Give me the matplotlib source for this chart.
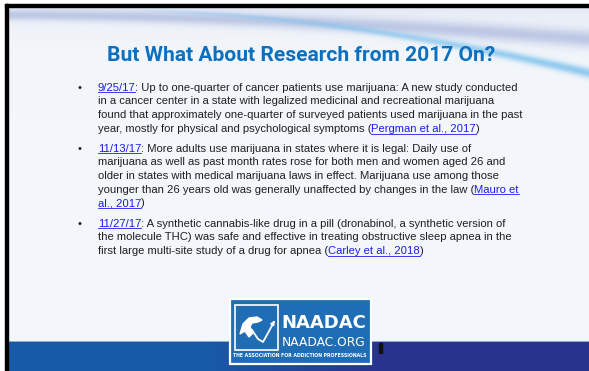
import numpy as np
import matplotlib
matplotlib.use('Agg')
import matplotlib.pyplot as plt
from matplotlib.patches import Rectangle, Polygon

# Slide content
title_text = 'But What About Research from 2017 On?'

bullet1 = [
    [('9/25/17', True), (': Up to one-quarter of cancer patients use marijuana: A new study conducted', False)],
    [('in a cancer center in a state with legalized medicinal and recreational marijuana', False)],
    [('found that approximately one-quarter of surveyed patients used marijuana in the past', False)],
    [('year, mostly for physical and psychological symptoms (', False), ('Pergman et al., 2017', True), (')', False)],
]
bullet2 = [
    [('11/13/17', True), (': More adults use marijuana in states where it is legal: Daily use of', False)],
    [('marijuana as well as past month rates rose for both men and women aged 26 and', False)],
    [('older in states with medical marijuana laws in effect. Marijuana use among those', False)],
    [('younger than 26 years old was generally unaffected by changes in the law (', False), ('Mauro et', True)],
    [('al., 2017', True), (')', False)],
]
bullet3 = [
    [('11/27/17', True), (': A synthetic cannabis-like drug in a pill (dronabinol, a synthetic version of', False)],
    [('the molecule THC) was safe and effective in treating obstructive sleep apnea in the', False)],
    [('first large multi-site study of a drug for apnea (', False), ('Carley et al., 2018', True), (')', False)],
]
bullets = [bullet1, bullet2, bullet3]
bullet_tops = [90.7, 151.7, 226.7]   # baseline of first line of each bullet (px)

logo_name = 'NAADAC'
logo_site = 'NAADAC.ORG'
logo_tag = 'THE ASSOCIATION FOR ADDICTION PROFESSIONALS'

W, H = 589, 371
text_color = '#202020'
link_color = '#1c1cf0'
title_color = '#0b70c0'
narrow = ['Liberation Sans Narrow', 'DejaVu Sans']

fig = plt.figure(figsize=(W / 100, H / 100), dpi=100)
ax = fig.add_axes([0, 0, 1, 1])
ax.set_xlim(0, W)
ax.set_ylim(H, 0)
ax.axis('off')

# Background with the swooshes at the top
yy, xx = np.mgrid[0:H, 0:W] + 0.5
img = np.ones((H, W, 3)) * np.array([0.953, 0.966, 0.981])

def blend(img, w, col):
    w = w[..., None]
    return img * (1 - w) + np.array(col) * w

w_top = np.where(yy > 7, 0.6 * np.exp(-(yy - 7) / 16), 0)
img = blend(img, w_top, (0.85, 0.88, 0.95))
u = xx / W
yc = 15 + 24 * u ** 1.8
sig = 5 + 4 * u
img = blend(img, 0.75 * np.exp(-((yy - yc) / sig) ** 2), (0.68, 0.73, 0.87))
t = np.clip((xx - 140) / 449, 0, 1)
yc = 11 + 62 * t ** 1.7
sig = 1.5 + 3.5 * t
img = blend(img, 0.85 * np.sqrt(t) * np.exp(-((yy - yc) / sig) ** 2), (0.50, 0.76, 0.93))

# bottom bar
f = np.clip((xx - 200) / 180, 0, 1)[..., None]
bar = np.array([0.09, 0.36, 0.66]) * (1 - f) + np.array([0.16, 0.20, 0.56]) * f
img = np.where((yy >= 341)[..., None], bar, img)
img = np.where(((yy >= 341) & (yy < 342.5))[..., None], np.array([0.55, 0.68, 0.82]), img)
img = np.clip(img, 0, 1)
ax.imshow(img, extent=[0, W, H, 0], interpolation='bilinear', zorder=0)

# white margin and black frame on the left and top
ax.add_patch(Rectangle((0, 0), 5, H, color='white', zorder=1))
ax.add_patch(Rectangle((0, 0), W, 4, color='white', zorder=1))
ax.add_patch(Rectangle((5, 4), 3, H, color='black', zorder=2))
ax.add_patch(Rectangle((5, 4), W, 3, color='black', zorder=2))

fig.canvas.draw()
renderer = fig.canvas.get_renderer()

def fit(tt, width):
    # rescale a text so that it spans the given width in pixels
    wd = tt.get_window_extent(renderer).width
    tt.set_fontsize(tt.get_fontsize() * width / wd)
    return tt.get_fontsize()

# Title
tt = ax.text(301, 61, title_text, color=title_color, fontsize=16, fontweight='bold',
             family=['Roboto', 'DejaVu Sans'], ha='center', va='baseline')
fit(tt, 389)

# Bullets, font size taken from the first line width
probe = ax.text(0, -50, ''.join(s for s, _ in bullet1[0]), fontsize=8, family='Liberation Sans')
body_size = fit(probe, 424)
probe.remove()
line_step = 13.7

for b, lines in enumerate(bullets):
    y = bullet_tops[b]
    ax.text(77, y, '\u2022', color=text_color, fontsize=body_size,
            family='Liberation Sans', va='baseline')
    for segs in lines:
        x = 97.7
        for txt, is_link in segs:
            tt = ax.text(x, y, txt, color=link_color if is_link else text_color,
                         fontsize=body_size, family='Liberation Sans', va='baseline')
            wd = tt.get_window_extent(renderer).width
            if is_link:
                ax.plot([x, x + wd], [y + 1.7, y + 1.7], color=link_color, lw=0.6)
            x += wd
        y += line_step

# Logo
ax.add_patch(Rectangle((230, 299), 141, 65, facecolor='#1f6db4', edgecolor='white', lw=1.6, zorder=3))
ax.add_patch(Rectangle((235, 305), 43, 45, facecolor='none', edgecolor='white', lw=1.2, zorder=4))
head = [(240, 334), (243, 324), (249, 318), (257, 317), (262, 320), (258, 322),
        (252, 323), (250, 327), (253, 333), (249, 337), (245, 331)]
ax.add_patch(Polygon(head, closed=True, color='white', zorder=5))
ax.plot([252, 258, 263, 268, 274], [330, 339, 342, 333, 322], color='white', lw=1.3, zorder=5)
ax.annotate('', xy=(276, 318), xytext=(271, 327), zorder=5,
            arrowprops=dict(arrowstyle='-|>', color='white', lw=1.0, mutation_scale=6))

for s, x, y, wdt, weight, start in [(logo_name, 281, 328, 85, 'bold', 20),
                                     (logo_site, 282, 345.5, 84, 'normal', 10),
                                     (logo_tag, 233, 357, 132, 'bold', 4)]:
    tt = ax.text(x, y, s, color='white', fontsize=start, fontweight=weight,
                 family=narrow, va='baseline', zorder=6)
    fit(tt, wdt)

# small dark mark right of the logo
ax.add_patch(Rectangle((379, 343), 3, 10, color='#111111', zorder=3))

fig.savefig('out.png', dpi=100)
